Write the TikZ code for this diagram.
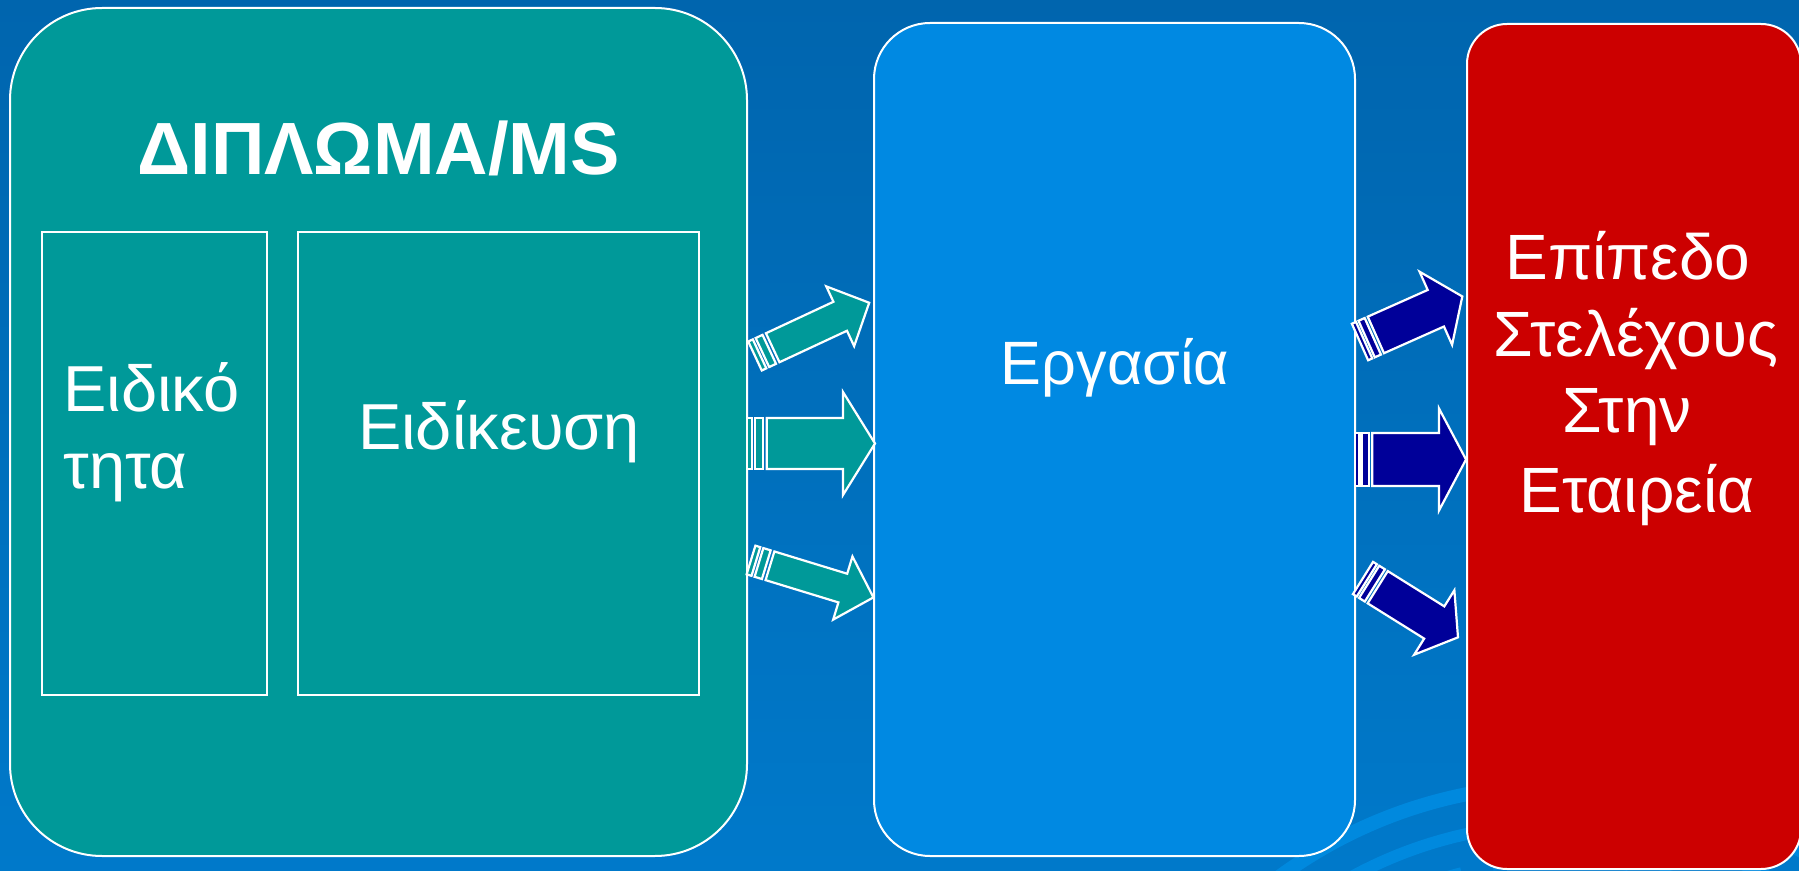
\documentclass[tikz,border=0pt]{standalone}
\usepackage{fontspec}
\setmainfont{Liberation Sans}
\definecolor{bgtop}{RGB}{0,101,174}
\definecolor{bgbot}{RGB}{0,121,202}
\definecolor{deco}{RGB}{0,137,222}
\definecolor{teal}{RGB}{0,153,153}
\definecolor{skyb}{RGB}{0,137,226}
\definecolor{redb}{RGB}{204,0,0}
\definecolor{navy}{RGB}{0,0,153}
\tikzset{
  frame/.style={draw=white, line width=1pt},
  inner/.style={draw=white, line width=0.8pt},
  lbl/.style={text=white, inner sep=0pt, anchor=base},
  arr/.style={draw=white, line width=1.1pt, line join=miter},
  decoline/.style={draw=deco},
}
\newcommand{\sarrow}[8]{%
\begin{scope}[shift={(#1,#2)}, rotate=#3]
 \path[arr, fill=#8] (0,-#5) rectangle ({0.04*#4},#5);
 \path[arr, fill=#8] ({0.065*#4},-#5) rectangle ({0.125*#4},#5);
 \path[arr, fill=#8] ({0.155*#4},-#5) -- ({#4-#7},-#5) -- ({#4-#7},-#6) -- (#4,0) -- ({#4-#7},#6) -- ({#4-#7},#5) -- ({0.155*#4},#5) -- cycle;
\end{scope}}
\begin{document}
\begin{tikzpicture}[x=0.5pt,y=-0.5pt]
\useasboundingbox (0,0) rectangle (1799,871);
% background
\shade[top color=bgtop, bottom color=bgbot] (0,0) rectangle (1799,871);
% decoration arcs
\begin{scope}
\clip (0,0) rectangle (1799,871);
\draw[decoline, line width=7pt] (1560,1260) circle[radius=237.5pt];
\draw[decoline, line width=6pt] (1560,1260) circle[radius=218pt];
\draw[decoline, line width=5pt, dash pattern=on 12pt off 16pt] (1560,1260) circle[radius=200pt];
\end{scope}
% boxes
\draw[frame, fill=teal, rounded corners=46pt] (10,8) rectangle (747,856);
\draw[inner] (42,232) rectangle (267,695);
\draw[inner] (298,232) rectangle (699,695);
\draw[frame, fill=skyb, rounded corners=28pt] (874,23) rectangle (1355,856);
\draw[frame, fill=redb, rounded corners=20pt] (1467,24) rectangle (1801,869);
% texts
\node[lbl, font=\bfseries\fontsize{37}{44}\selectfont] (title) at (378.5,175) {ΔΙΠΛΩΜΑ/MS};
\node[lbl, anchor=base west, font=\fontsize{32.5}{40}\selectfont] (eid1) at (63,412) {Ειδικό};
\node[lbl, anchor=base west, font=\fontsize{32.5}{40}\selectfont] (eid2) at (63,488) {τητα};
\node[lbl, font=\fontsize{32.5}{40}\selectfont] (spec) at (499,450) {Ειδίκευση};
\node[lbl, font=\fontsize{30.6}{37}\selectfont] (work) at (1115,385) {Εργασία};
\node[lbl, font=\fontsize{32}{38}\selectfont] (r1) at (1628,280) {Επίπεδο};
\node[lbl, font=\fontsize{32}{38}\selectfont] (r2) at (1636,357) {Στελέχους};
\node[lbl, font=\fontsize{32}{38}\selectfont] (r3) at (1627,433) {Στην};
\node[lbl, font=\fontsize{32}{38}\selectfont] (r4) at (1637,512) {Εταιρεία};
% striped arrows
\sarrow{755}{356}{25}{126}{16}{33}{32}{teal}
\sarrow{747}{443.5}{0}{128}{25.5}{51.5}{32}{teal}
\sarrow{751}{560}{-17}{128}{15}{33}{32}{teal}
\sarrow{1360}{342}{24}{112}{20}{40}{29}{navy}
\sarrow{1355}{459.5}{0}{111}{26.5}{51}{27}{navy}
\sarrow{1363}{578}{-32}{112}{19}{38}{28}{navy}
\end{tikzpicture}
\end{document}
